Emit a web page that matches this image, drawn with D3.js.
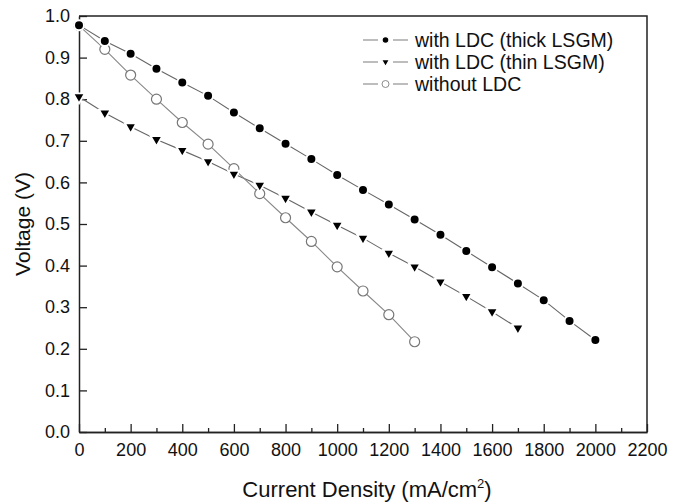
<!DOCTYPE html>
<html lang="en">
<head>
<meta charset="utf-8">
<script src="https://cdn.jsdelivr.net/npm/d3@7"></script>
<style>
  body { margin: 0; background: #fff; }
  text { font-family: Arial, "Liberation Sans", sans-serif; fill: #111; }
</style>
</head>
<body>
<script>
// current density (mA/cm2) and voltage (V)
const currentThick = [0, 100, 200, 300, 400, 500, 600, 700, 800, 900, 1000,
  1100, 1200, 1300, 1400, 1500, 1600, 1700, 1800, 1900, 2000];
const voltageThick = [0.978, 0.940, 0.909, 0.873, 0.840, 0.808, 0.768, 0.730, 0.693, 0.656, 0.618,
  0.582, 0.547, 0.511, 0.474, 0.435, 0.396, 0.357, 0.317, 0.267, 0.221];

const currentThin = [0, 100, 200, 300, 400, 500, 600, 700, 800, 900, 1000,
  1100, 1200, 1300, 1400, 1500, 1600, 1700];
const voltageThin = [0.806, 0.767, 0.734, 0.703, 0.677, 0.650, 0.620, 0.593, 0.562, 0.529, 0.497,
  0.466, 0.430, 0.397, 0.361, 0.326, 0.289, 0.250];

const currentNone = [0, 100, 200, 300, 400, 500, 600, 700, 800, 900, 1000, 1100, 1200, 1300];
const voltageNone = [0.977, 0.920, 0.858, 0.800, 0.744, 0.692, 0.633, 0.573, 0.515, 0.458, 0.397,
  0.339, 0.282, 0.217];

const seriesNames = ["with LDC (thick LSGM)", "with LDC (thin LSGM)", "without LDC"];
const xMajorTicks = [0, 200, 400, 600, 800, 1000, 1200, 1400, 1600, 1800, 2000, 2200];
const xMinorTicks = [100, 300, 500, 700, 900, 1100, 1300, 1500, 1700, 1900, 2100];
const yTicks = [0, 0.1, 0.2, 0.3, 0.4, 0.5, 0.6, 0.7, 0.8, 0.9, 1.0];

const width = 681, height = 504;
const margin = {top: 16, right: 34, bottom: 72, left: 79};

const svg = d3.select("body").append("svg")
  .attr("width", width)
  .attr("height", height);

const x = d3.scaleLinear().domain([0, 2200]).range([margin.left, width - margin.right]);
const y = d3.scaleLinear().domain([0, 1]).range([height - margin.bottom, margin.top]);

const series = [
  {name: seriesNames[0], xs: currentThick, ys: voltageThick, marker: "filled"},
  {name: seriesNames[1], xs: currentThin, ys: voltageThin, marker: "triangle"},
  {name: seriesNames[2], xs: currentNone, ys: voltageNone, marker: "open"}
].map(s => ({...s, points: s.xs.map((c, i) => ({c, v: s.ys[i]}))}));

// axes
svg.append("g")
  .attr("transform", `translate(0,${y(0)})`)
  .call(d3.axisBottom(x).tickValues(xMajorTicks).tickFormat(d3.format("d"))
    .tickSize(-8).tickPadding(11).tickSizeOuter(0));
svg.append("g")
  .attr("transform", `translate(0,${y(0)})`)
  .call(d3.axisBottom(x).tickValues(xMinorTicks).tickSize(-4).tickFormat("").tickSizeOuter(0));
svg.append("g")
  .attr("transform", `translate(${x(0)},0)`)
  .call(d3.axisLeft(y).tickValues(yTicks).tickFormat(d3.format(".1f"))
    .tickSize(-8).tickPadding(9).tickSizeOuter(0));

svg.selectAll(".domain").attr("stroke", "#222").attr("stroke-width", 1.5);
svg.selectAll(".tick line").attr("stroke", "#222").attr("stroke-width", 1.3);
svg.selectAll(".tick text").attr("font-size", 18).attr("fill", "#111")
  .attr("font-family", "Arial, 'Liberation Sans', sans-serif");

// frame top and right
svg.append("path")
  .attr("d", `M${x(0)},${y(1)}H${x(2200)}V${y(0)}`)
  .attr("fill", "none")
  .attr("stroke", "#222")
  .attr("stroke-width", 1.5);

// lines
const line = d3.line().x(d => x(d.c)).y(d => y(d.v));
svg.append("g").selectAll("path")
  .data(series)
  .join("path")
  .attr("d", d => line(d.points))
  .attr("fill", "none")
  .attr("stroke", d => d.marker === "open" ? "#888" : "#666")
  .attr("stroke-width", 1.1);

const triangle = d3.symbol().type(d3.symbolTriangle).size(58);

function drawMarker(g, kind) {
  if (kind === "filled") {
    g.append("circle").attr("r", 5).attr("fill", "#000").attr("stroke", "#fff").attr("stroke-width", 2);
  } else if (kind === "open") {
    g.append("circle").attr("r", 5).attr("fill", "#fff").attr("stroke", "#777").attr("stroke-width", 1.2);
  } else {
    g.append("path").attr("d", triangle()).attr("transform", "rotate(180)")
      .attr("fill", "#000").attr("stroke", "#fff").attr("stroke-width", 1.8);
  }
}

// markers, drawn in reverse so the filled circles sit on top
[...series].reverse().forEach(s => {
  svg.append("g").selectAll("g")
    .data(s.points)
    .join("g")
    .attr("transform", d => `translate(${x(d.c)},${y(d.v)})`)
    .each(function() { drawMarker(d3.select(this), s.marker); });
});

// legend
const legend = svg.append("g").attr("transform", "translate(363,40)");
series.forEach((s, i) => {
  const row = legend.append("g").attr("transform", `translate(0,${i * 22})`);
  row.append("line").attr("x1", 0).attr("x2", 15).attr("stroke", "#999").attr("stroke-width", 1.3);
  row.append("line").attr("x1", 30).attr("x2", 45).attr("stroke", "#999").attr("stroke-width", 1.3);
  const m = row.append("g").attr("transform", "translate(22.5,0) scale(0.7)");
  drawMarker(m, s.marker);
  row.append("text").attr("x", 52).attr("dy", "0.35em").attr("font-size", 19.5).text(s.name);
});

// axis titles
svg.append("text")
  .attr("x", (x(0) + x(2200)) / 2 + 4)
  .attr("y", 497)
  .attr("text-anchor", "middle")
  .attr("font-size", 22)
  .text("Current Density (mA/cm")
  .call(t => t.append("tspan").attr("font-size", 13).attr("dy", -9).text("2"))
  .call(t => t.append("tspan").attr("dy", 9).text(")"));

svg.append("text")
  .attr("transform", `translate(30,${(y(0) + y(1)) / 2}) rotate(-90)`)
  .attr("text-anchor", "middle")
  .attr("font-size", 21)
  .text("Voltage (V)");
</script>
</body>
</html>
